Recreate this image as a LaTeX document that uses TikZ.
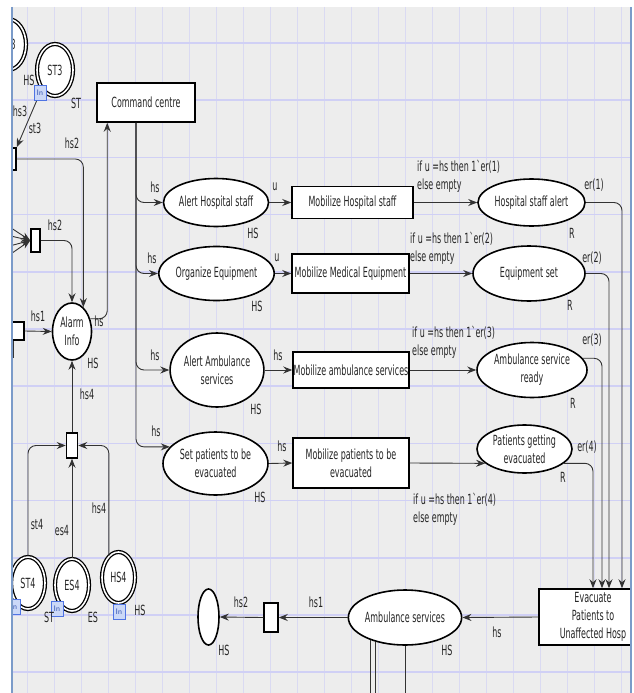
\documentclass[tikz,border=0pt]{standalone}
\usepackage{fontspec}
\newfontfamily\cpn{DejaVu Sans}[FakeStretch=0.57,Ligatures=TeXOff]
\usetikzlibrary{shapes.geometric,arrows.meta}
\definecolor{bgc}{HTML}{EDEDED}
\definecolor{gridv}{HTML}{DADAF2}
\definecolor{gridh}{HTML}{D0D0F5}
\definecolor{bord}{HTML}{7B9BC9}
\definecolor{infill}{HTML}{CBD8F7}
\definecolor{indraw}{HTML}{4F74E3}
\begin{document}
\begin{tikzpicture}[x=1pt,y=-1pt,
  tx/.style={font=\cpn\fontsize{14}{18}\selectfont, text=black!85, inner sep=0pt},
  place/.style={ellipse, draw=black, line width=1.6pt, fill=white, inner sep=0pt, tx, align=center},
  dplace/.style={ellipse, draw=black, line width=1.3pt, double=white, double distance=1.6pt, fill=white, inner sep=0pt, tx},
  trans/.style={rectangle, draw=black, line width=1.5pt, fill=white, inner sep=0pt, tx, align=center},
  inbox/.style={rectangle, draw=indraw, line width=0.9pt, fill=infill, minimum width=12, minimum height=15, inner sep=0pt, font=\sffamily\fontsize{8}{8}\selectfont, text=indraw!80!black},
  lbl/.style={tx},
  cond/.style={tx, align=left, anchor=west},
  conn/.style={draw=black!80, line width=0.9pt},
  arc/.style={conn, -{Stealth[length=9pt,width=7pt,inset=3pt]}},
  rc/.style={rounded corners=8pt}]
\useasboundingbox (0,0) rectangle (633,693);
\fill[white] (0,0) rectangle (633,693);
\begin{scope}
\clip (12,7) rectangle (631,693);
\fill[bgc] (12,7) rectangle (631,693);
\foreach \i in {1,...,23} \draw[gridv, line width=0.8pt] (27*\i,7) -- (27*\i,693);
\foreach \j in {0,...,11} \draw[gridh, line width=1.6pt] (12,43+57.2*\j) -- (631,43+57.2*\j);

% ---------- left part ----------
\node[dplace, minimum width=36, minimum height=51] (p3) at (8,44.5) {\phantom{ES}3};
\node[dplace, minimum width=36, minimum height=52] (st3) at (55,70) {ST3};
\node[inbox] (in3) at (40,93) {In};
\node[trans, minimum width=10, minimum height=22] (t3) at (11,159) {};
\node[trans, minimum width=9, minimum height=23] (t2) at (35.5,240.5) {};
\node[trans, minimum width=14, minimum height=18] (t1) at (17,331) {};
\node[place, minimum width=39, minimum height=57] (alarm) at (72,331.5) {Alarm\\Info};
\node[trans, minimum width=11, minimum height=25] (t4) at (72,445.5) {};
\node[dplace, minimum width=34, minimum height=52] (st4) at (28,583) {ST4};
\node[dplace, minimum width=34, minimum height=52] (es4) at (72,585) {ES4};
\node[dplace, minimum width=33, minimum height=51] (hs4) at (118.5,577.5) {HS4};
\node[inbox] (inst4) at (14,607) {In};
\node[inbox] (ines4) at (57,608.5) {In};
\node[inbox] (inhs4) at (119,611.5) {In};

\node[trans, minimum width=98, minimum height=39] (cc) at (146,102.5) {Command centre};

% ---------- rows ----------
\node[place, minimum width=83, minimum height=48] (ahs) at (216,202.5) {Alert Hospital staff};
\node[trans, minimum width=121, minimum height=32] (mhs) at (352.5,202.5) {Mobilize Hospital staff};
\node[place, minimum width=107, minimum height=47] (hsa) at (531.5,202.5) {Hospital staff alert};

\node[place, minimum width=93, minimum height=54] (org) at (216.5,273.5) {Organize Equipment};
\node[trans, minimum width=117, minimum height=39] (mme) at (350.5,273.5) {Mobilize Medical Equipment};
\node[place, minimum width=112, minimum height=55] (eqs) at (529,273.5) {Equipment set};

\node[place, minimum width=90, minimum height=74] (aas) at (217,370) {Alert Ambulance\\services};
\node[trans, minimum width=116, minimum height=36] (mas) at (351,370) {Mobilize ambulance services};
\node[place, minimum width=110, minimum height=55] (asr) at (532,370) {Ambulance service\\ready};

\node[place, minimum width=105, minimum height=63] (sp) at (215.5,463.5) {Set patients to be\\evacuated};
\node[trans, minimum width=116, minimum height=50] (mp) at (351,463) {Mobilize patients to be\\evacuated};
\node[place, minimum width=95, minimum height=48] (pge) at (524.5,449) {Patients getting\\evacuated};

% ---------- bottom ----------
\node[trans, minimum width=108, minimum height=56] (ev) at (593,617) {Evacuate\\Patients to\\Unaffected Hosp};
\node[place, minimum width=100, minimum height=55] (as) at (405,617.5) {Ambulance services};
\node[trans, minimum width=14, minimum height=29] (bt) at (271,617.5) {};
\node[place, minimum width=21, minimum height=56] (hp) at (208.5,617) {};

% ---------- coordinates for free ends ----------
\coordinate (sb1) at (2,222);
\coordinate (sb2) at (2,234);
\coordinate (sb3) at (2,248);
\coordinate (sb4) at (2,260);
\coordinate (t1d) at (13,358);
\coordinate (bot) at (0,700);

% ---------- connectors ----------
\draw[arc] (in3) -- (t3.north east);
\draw[arc, rc] (t3.east) -| (alarm.65);
\foreach \s in {sb1,sb2,sb3,sb4} \draw[arc] (\s) -- (t2.west);
\draw[arc, rc] (t2.east) -| (alarm.north);
\draw[arc] (t1.east) -- (alarm.west);
\draw[conn, line width=1.4pt] (t1.south west -| t1d) -- (t1d);
\draw[arc, rc] (alarm.35) -| ([xshift=11pt]cc.south west);
\draw[arc] (t4.north) -- (alarm.south);
\draw[arc, rc] (st4.north) |- (t4.west);
\draw[arc] (es4.north) -- (t4.south);
\draw[arc, rc] (hs4.114) |- (t4.east);

\draw[arc, rc] ([xshift=-10pt]cc.south) |- (ahs.west);
\draw[arc, rc] ([xshift=-10pt]cc.south) |- (org.west);
\draw[arc, rc] ([xshift=-10pt]cc.south) |- (aas.west);
\draw[arc, rc] ([xshift=-10pt]cc.south) |- (sp.160);

\draw[arc] (ahs.east) -- (mhs.west);
\draw[arc] (org.east) -- (mme.west);
\draw[arc] (aas.east) -- (mas.west);
\draw[arc] (sp.east) -- (mp.west);

\draw[arc] (mhs.east) -- (hsa.west);
\draw[arc] (mme.east) -- (eqs.west);
\draw[arc] (mas.east) -- (asr.west);
\draw[arc] (mp.east) -- (pge.200);

\draw[arc, rc] (hsa.east) -| ([xshift=29pt]ev.north);
\draw[arc, rc] (eqs.east) -| ([xshift=16pt]ev.north);
\draw[arc, rc] (asr.13) -| ([xshift=9pt]ev.north);
\draw[arc, rc] (pge.-20) -| (ev.north);

\draw[arc] (ev.west) -- (as.east);
\draw[arc] (as.west) -- (bt.east);
\draw[arc] (bt.west) -- (hp.east);
\draw[conn] (as.213) -- (as.213 |- bot);
\draw[conn] (as.220) -- (as.220 |- bot);
\draw[conn] (as.south) -- (as.south |- bot);

% ---------- labels ----------
\node[lbl] (l01) at (29,80) {HS};
\node[lbl] (l02) at (76,103) {ST};
\node[lbl] (l03) at (20,111) {hs3};
\node[lbl] (l04) at (35,128) {st3};
\node[lbl] (l05) at (72,143) {hs2};
\node[lbl] (l06) at (55,225) {hs2};
\node[lbl] (l07) at (38,316) {hs1};
\node[lbl] (l08) at (99,321) {hs};
\node[lbl] (l09) at (93,363) {HS};
\node[lbl] (l10) at (87,394) {hs4};
\node[lbl] (l11) at (99,508) {hs4};
\node[lbl] (l12) at (37,524) {st4};
\node[lbl] (l13) at (62,530) {es4};
\node[lbl] (l14) at (49,617) {ST};
\node[lbl] (l15) at (93,617) {ES};
\node[lbl] (l16) at (140,610) {HS};

\node[lbl] (l17) at (155,187) {hs};
\node[lbl] (l18) at (253,233) {HS};
\node[lbl] (l19) at (275,187) {u};
\node[lbl] (l20) at (152,258) {hs};
\node[lbl] (l21) at (257,306) {HS};
\node[lbl] (l22) at (277,258) {u};
\node[lbl] (l23) at (155,355) {hs};
\node[lbl] (l24) at (256,409) {HS};
\node[lbl] (l25) at (278,355) {hs};
\node[lbl] (l26) at (156,431) {hs};
\node[lbl] (l27) at (260,497) {HS};
\node[lbl] (l28) at (282,446) {hs};

\node[cond] (c1) at (417,176.5) {if u =hs then 1`er(1)\\else empty};
\node[cond] (c2) at (410,248.5) {if u =hs then 1`er(2)\\else empty};
\node[cond] (c3) at (412,342) {if u =hs then 1`er(3)\\else empty};
\node[cond] (c4) at (413,509) {if u =hs then 1`er(4)\\else empty};

\node[lbl] (l29) at (594,185) {er(1)};
\node[lbl] (l30) at (572,233) {R};
\node[lbl] (l31) at (592,258) {er(2)};
\node[lbl] (l32) at (570,305) {R};
\node[lbl] (l33) at (592,340) {er(3)};
\node[lbl] (l34) at (573,403) {R};
\node[lbl] (l35) at (587,447) {er(4)};
\node[lbl] (l36) at (563,477) {R};

\node[lbl] (l37) at (497,632) {hs};
\node[lbl] (l38) at (447,650) {HS};
\node[lbl] (l39) at (316,602) {hs1};
\node[lbl] (l40) at (241,602) {hs2};
\node[lbl] (l41) at (224,650) {HS};
\end{scope}
\draw[bord, line width=1.2pt] (12,7) -- (12,693);
\draw[bord, line width=1.2pt] (631,7) -- (631,693);
\end{tikzpicture}
\end{document}
